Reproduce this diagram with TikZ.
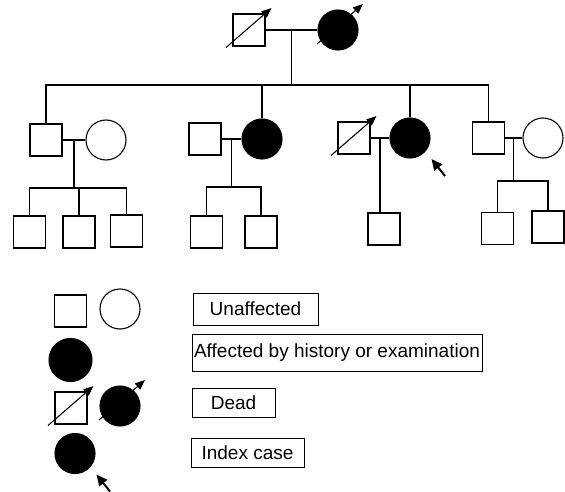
\documentclass[tikz,border=0pt]{standalone}
\usepackage{fontspec}
\setmainfont{Liberation Sans}
\usetikzlibrary{arrows.meta,calc}

\begin{document}
\begin{tikzpicture}[x=1pt,y=-1pt,line width=1.1pt,
    male/.style={draw,rectangle,minimum size=32pt,inner sep=0pt},
    female/.style={draw,circle,minimum size=40pt,inner sep=0pt},
    affected/.style={fill=black},
    legendbox/.style={draw,inner sep=0pt,line width=1pt,font=\fontsize{19}{22}\selectfont},
    deadline/.style={-{Triangle[length=10pt,width=8pt]}},
    pointer/.style={line width=2pt,-{Triangle[length=11pt,width=10pt]}}]
\useasboundingbox (0,0) rectangle (565,492);

% Generation I
\node[male] (gpa) at (249,30) {};
\node[female,affected] (gma) at (338,30) {};
\draw (gpa) -- (gma);
\coordinate (m0) at ($(gpa.east)!.5!(gma.west)$);

% Generation II
\node[male] (u1) at (46,140) {};
\node[female] (w1) at (106,140) {};
\node[male] (h2) at (205,139) {};
\node[female,affected] (d2) at (262,139) {};
\node[male] (h3) at (354,138) {};
\node[female,affected] (d3) at (410,138) {};
\node[male] (u4) at (488.5,138) {};
\node[female] (w4) at (543,138) {};

% sibship of generation II
\draw (m0) -- (m0 |- 0,85);
\draw (u1.north) |- (u4.north |- 0,85) -- (u4.north);
\foreach \n in {d2,d3}
    \draw (\n.north) -- (\n.north |- 0,85);

% couples
\foreach \a/\b/\m in {u1/w1/m1,h2/d2/m2,h3/d3/m3,u4/w4/m4} {
    \draw (\a) -- (\b);
    \coordinate (\m) at ($(\a.east)!.5!(\b.west)$);
}

% Generation III
\node[male] (c11) at (29.5,232) {};
\node[male] (c12) at (79,232) {};
\node[male] (c13) at (126.5,231) {};
\node[male] (c21) at (206.5,232) {};
\node[male] (c22) at (261,232) {};
\node[male] (c31) at (384,229) {};
\node[male] (c41) at (497.5,228.5) {};
\node[male] (c42) at (548,227) {};

\draw (m1) -- (m1 |- 0,188);
\draw (c11.north) |- (c13.north |- 0,188) -- (c13.north);
\draw (c12.north) -- (c12.north |- 0,188);
\draw (m2) -- (m2 |- 0,187);
\draw (c21.north) |- (c22.north |- 0,187) -- (c22.north);
\draw (m3) -- (m3 |- c31.north);
\draw (m4) -- (m4 |- 0,181);
\draw (c41.north) |- (c42.north |- 0,181) -- (c42.north);

% Key
\node[male] (keyM) at (70.5,311) {};
\node[female] (keyF) at (120,309) {};
\node[female,affected,minimum size=43pt] (keyA) at (70.5,360) {};
\node[male] (keyDM) at (71,408) {};
\node[female,affected] (keyDF) at (120,406) {};
\node[female,affected] (keyI) at (75,453.5) {};

\node[legendbox,minimum width=125pt,minimum height=32pt] (txtU) at (255.5,309) {Unaffected};
\node[legendbox,minimum width=290pt,minimum height=37pt] (txtA) at (337,352.5) {Affected by history or examination};
\node[legendbox,minimum width=83pt,minimum height=29pt] (txtD) at (233.5,402.5) {Dead};
\node[legendbox,minimum width=113pt,minimum height=29pt] (txtI) at (247.5,452.5) {Index case};

% dead and index arrows
\foreach \n in {gpa,h3,keyDM}
    \draw[deadline] ([shift={(-23,17.5)}]\n.center) -- ([shift={(22.5,-22)}]\n.center);
\foreach \n in {gma,keyDF}
    \draw[deadline] ([shift={(-21,14)}]\n.center) -- ([shift={(25,-26)}]\n.center);
\foreach \n in {d3,keyI}
    \draw[pointer] ([shift={(35,38)}]\n.center) -- ([shift={(21.5,21)}]\n.center);
\end{tikzpicture}
\end{document}
